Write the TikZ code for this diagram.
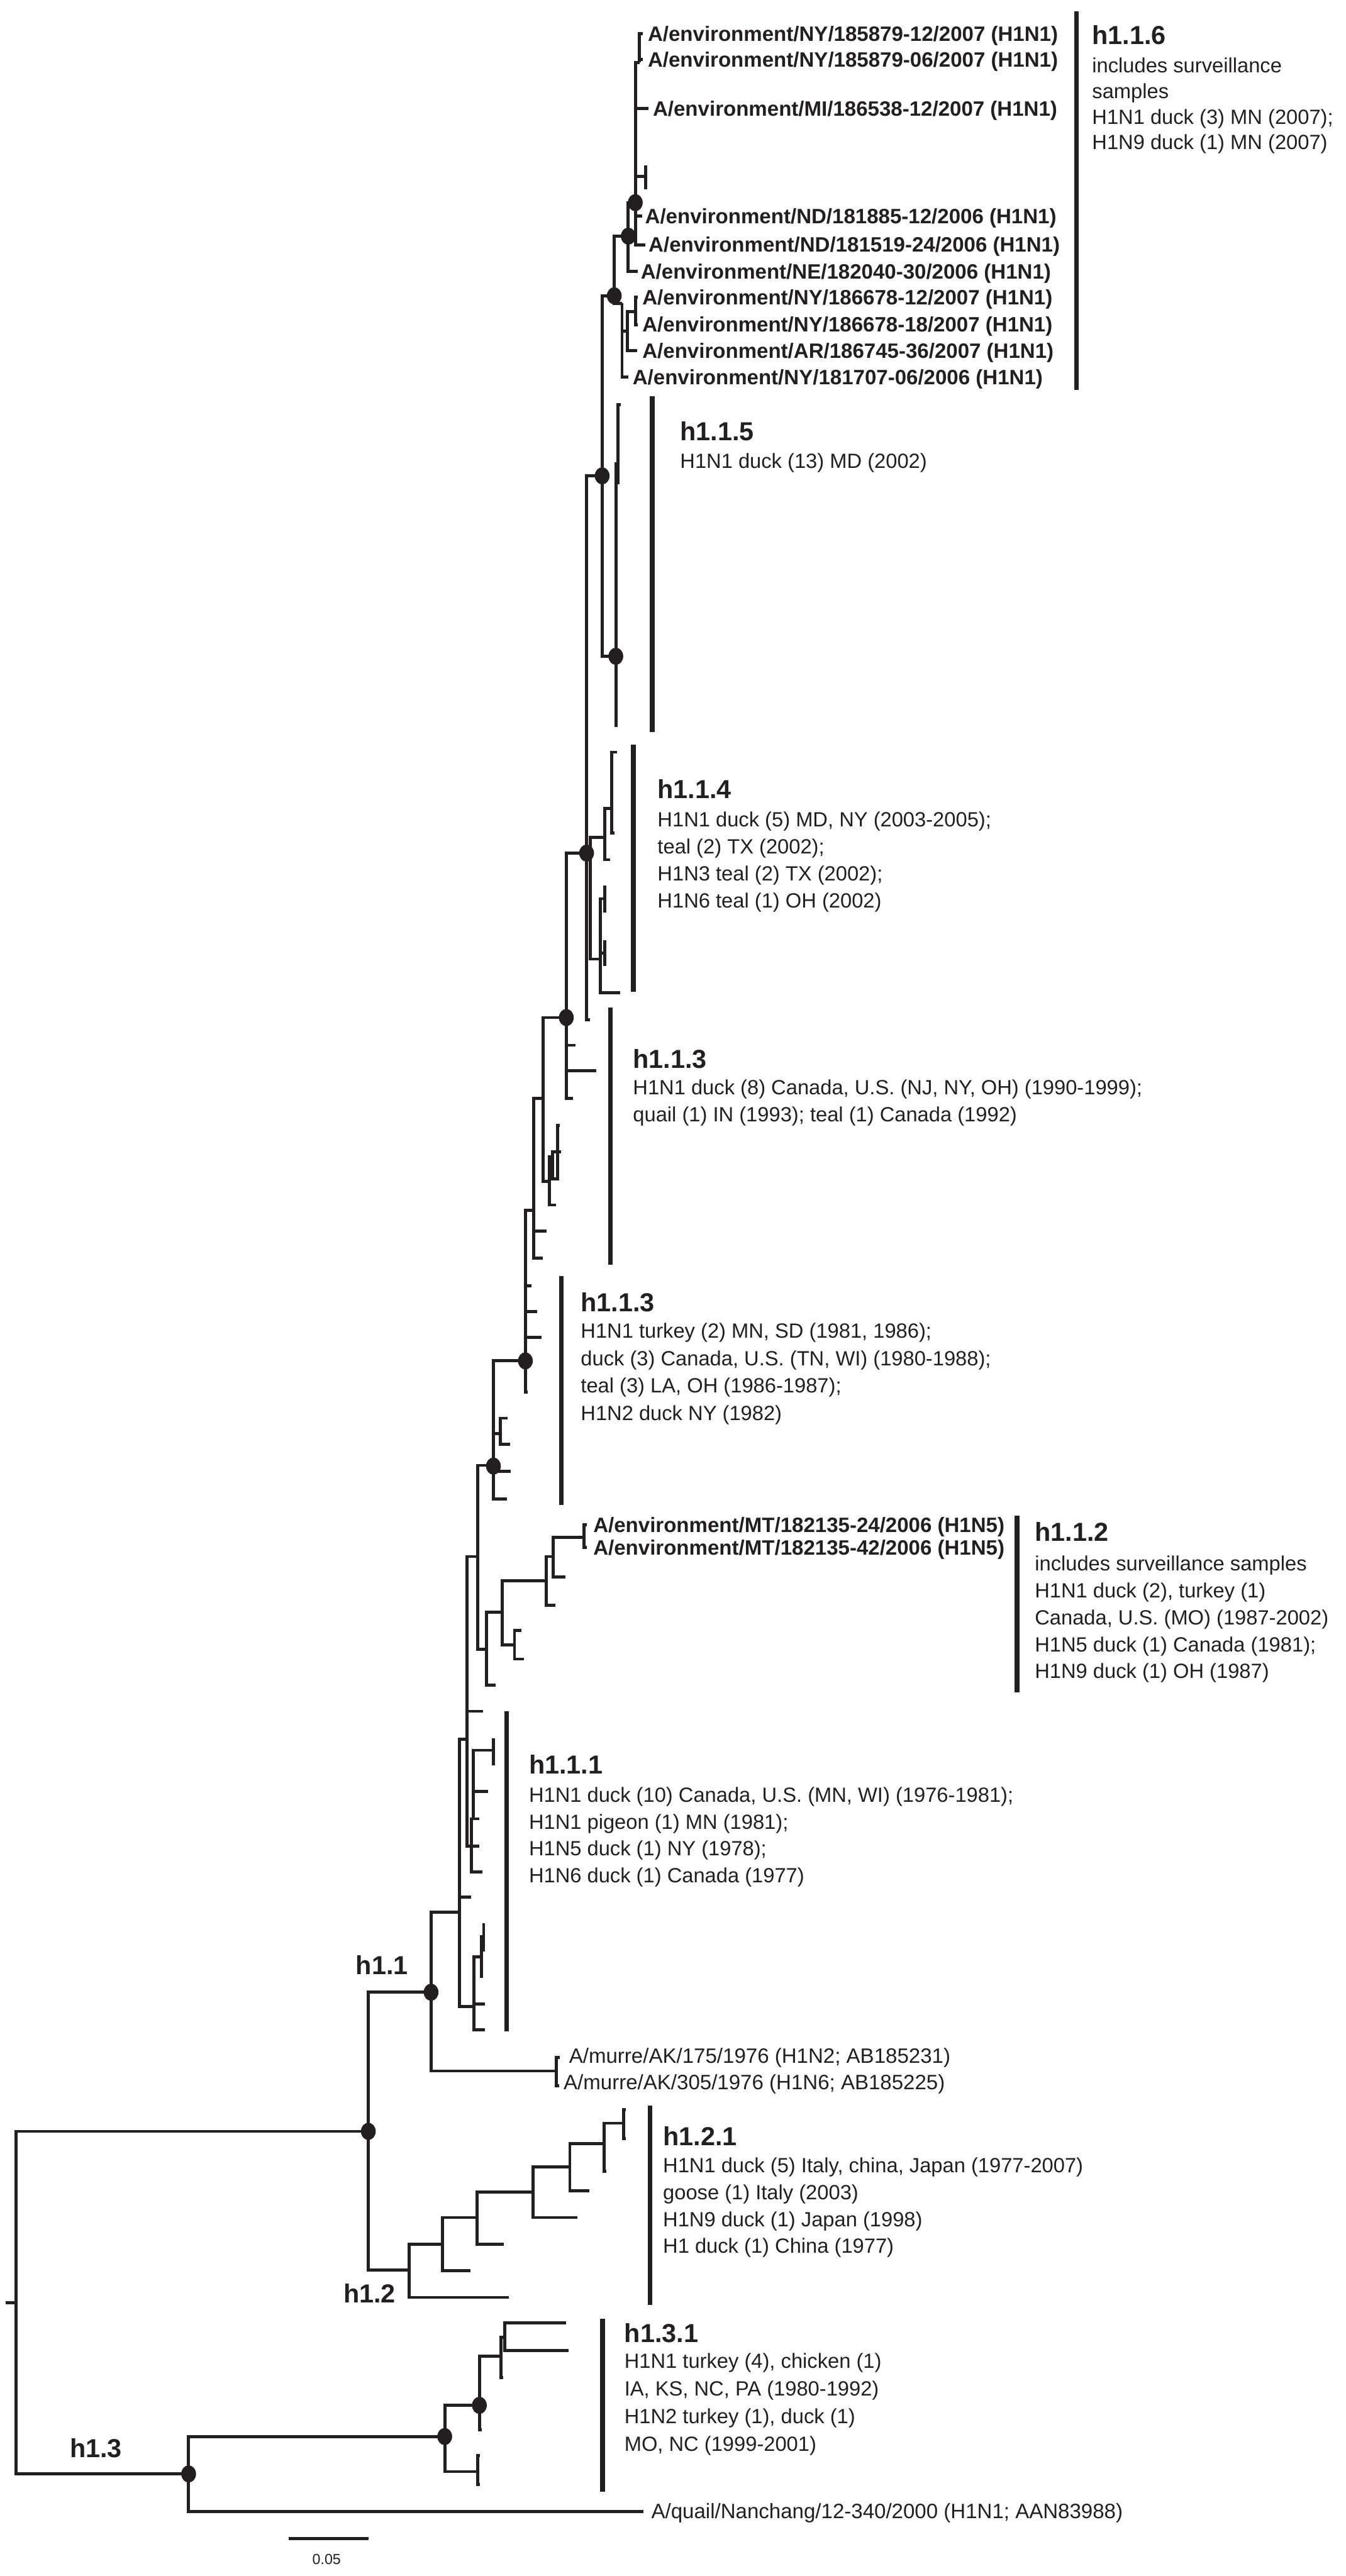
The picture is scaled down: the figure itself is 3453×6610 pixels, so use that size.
\documentclass[tikz,border=0pt]{standalone}
\usepackage{fontspec}
\setmainfont{Liberation Sans}
\usepackage{tikz}
\usetikzlibrary{positioning}
\definecolor{inkblack}{RGB}{35,31,32}
\tikzset{
    branch/.style={
        draw=inkblack,
        line width=1.35pt,
        line join=miter
    },
    cladebar/.style={
        draw=inkblack,
        line width=2.1pt
    },
    taxon/.style={
        anchor=west,
        inner sep=0pt,
        text height=6.5pt,
        text depth=0pt,
        text=inkblack,
        font=\fontsize{9.1}{11}\selectfont\bfseries
    },
    isolate/.style={taxon, font=\fontsize{9.1}{11}\selectfont},
    cladename/.style={taxon, text height=8.2pt, font=\fontsize{11.4}{13}\selectfont\bfseries},
    cladeinfo/.style={taxon, font=\fontsize{9}{11}\selectfont},
    scalelab/.style={inner sep=0pt, text=inkblack, font=\fontsize{6.4}{8}\selectfont}
}

\begin{document}
\begin{tikzpicture}[x=0.006cm, y=-0.006cm]
\useasboundingbox (0,0) rectangle (3453,6610);

% root and deep splits
\draw[branch] (15,5909) -- (41,5909);
\draw[branch] (945,5469) -| (41,6348) -- (484,6348);
\draw[branch] (1106,5112) -| (945,5825) -- (1050,5825);

% h1.3
\draw[branch] (1141,6252) -| (484,6444) -- (1651,6444);
\draw[branch] (1230,6172) -| (1141,6342) -- (1226,6342);
\draw[branch] (1232,6301) -| (1226,6375) -- (1232,6375);
\draw[branch] (1285,6046) -| (1230,6235) -- (1236,6235);
\draw[branch] (1295,5997) -| (1285,6101) -- (1291,6101);
\draw[branch] (1453,5961) -| (1295,6032) -- (1459,6032);

% h1.2
\draw[branch] (1136,5759) -| (1050,5895) -- (1305,5895);
\draw[branch] (1224,5690) -| (1136,5827) -- (1207,5827);
\draw[branch] (1368,5624) -| (1224,5759) -- (1293,5759);
\draw[branch] (1462,5560) -| (1368,5690) -- (1481,5690);
\draw[branch] (1550,5500) -| (1462,5622) -- (1512,5622);
\draw[branch] (1600,5448) -| (1550,5571) -- (1556,5571);
\draw[branch] (1606,5414) -| (1600,5487) -- (1606,5487);

% h1.1 and murre
\draw[branch] (1179,4906) -| (1106,5314) -- (1427,5314);
\draw[branch] (1436,5279) -| (1427,5352) -- (1434,5352);

% h1.1.1
\draw[branch] (1198,4463) -| (1179,5149) -- (1216,5149);
\draw[branch] (1179,4868) -- (1208,4868);
\draw[branch] (1233,5021) -| (1216,5209) -- (1244,5209);
\draw[branch] (1216,5142) -- (1244,5142);
\draw[branch] (1241,4935) -- (1241,5008);
\draw[branch] (1241,4970) -| (1235,5075);
\draw[branch] (1225,3994) -| (1198,4737) -- (1230,4737);
\draw[branch] (1198,4391) -- (1239,4391);
\draw[branch] (1230,4667) -| (1210,4804) -- (1237,4804);
\draw[branch] (1263,4491) -| (1215,4667);
\draw[branch] (1215,4597) -- (1253,4597);
\draw[branch] (1266,4460) -- (1266,4530);

% h1.1.2
\draw[branch] (1266,3760) -| (1225,4232) -- (1248,4232);
\draw[branch] (1289,4137) -| (1248,4324) -- (1272,4324);
\draw[branch] (1402,4056) -| (1289,4221) -- (1320,4221);
\draw[branch] (1337,4183) -| (1320,4257) -- (1345,4257);
\draw[branch] (1419,3994) -| (1402,4119) -- (1425,4119);
\draw[branch] (1498,3945) -| (1419,4047) -- (1451,4047);
\draw[branch] (1506,3913) -| (1498,3971) -- (1506,3971);

% h1.1.3 (lower)
\draw[branch] (1348,3492) -| (1266,3846) -- (1301,3846);
\draw[branch] (1266,3775) -- (1310,3775);
\draw[branch] (1266,3678) -- (1284,3678);
\draw[branch] (1302,3639) -| (1284,3706) -- (1309,3706);
\draw[branch] (1369,3106) -| (1348,3572) -- (1354,3572);
\draw[branch] (1348,3299) -- (1364,3299);
\draw[branch] (1348,3366) -- (1378,3366);
\draw[branch] (1348,3432) -- (1389,3432);

% h1.1.3 (upper)
\draw[branch] (1393,2818) -| (1369,3229) -- (1393,3229);
\draw[branch] (1369,3159) -- (1403,3159);
\draw[branch] (1453,2611) -| (1393,3032) -- (1409,3032);
\draw[branch] (1418,2969) -| (1409,3092) -- (1426,3092);
\draw[branch] (1440,2955) -| (1418,3025) -- (1428,3025);
\draw[branch] (1436,2888) -| (1431,3029);
\draw[branch] (1505,2189) -| (1453,2818) -- (1470,2818);
\draw[branch] (1453,2682) -- (1476,2682);
\draw[branch] (1453,2748) -- (1530,2748);

% h1.1.4
\draw[branch] (1545,1221) -| (1505,2616) -- (1514,2616);
\draw[branch] (1505,2189) -- (1514,2189);
\draw[branch] (1552,2148) -| (1514,2461) -- (1541,2461);
\draw[branch] (1568,2074) -| (1552,2206) -- (1565,2206);
\draw[branch] (1583,1930) -| (1570,2137) -- (1576,2137);
\draw[branch] (1552,2306) -| (1541,2547) -- (1591,2547);
\draw[branch] (1552,2272) -- (1552,2342);
\draw[branch] (1541,2445) -- (1552,2445);
\draw[branch] (1552,2412) -- (1552,2478);

% h1.1.5
\draw[branch] (1576,759) -| (1545,1684) -- (1580,1684);
\draw[branch] (1580,1186) -- (1580,1866);
\draw[branch] (1592,1039) -| (1585,1243);

% h1.1.6
\draw[branch] (1612,606) -| (1576,778) -- (1596,778);
\draw[branch] (1596,778) |- (1612,967);
\draw[branch] (1596,850) -- (1609,850);
\draw[branch] (1630,800) -| (1609,900) -- (1634,900);
\draw[branch] (1636,762) -| (1630,833) -- (1636,833);
\draw[branch] (1630,520) -| (1612,697) -- (1636,697);
\draw[branch] (1641,160) -| (1630,628) -- (1655,628);
\draw[branch] (1630,555) -- (1648,555);
\draw[branch] (1650,86) -| (1641,160);
\draw[branch] (1641,153) -- (1650,153);
\draw[branch] (1630,278) -- (1664,278);
\draw[branch] (1630,453) -- (1656,453);
\draw[branch] (1656,424) -- (1656,485);

% supported nodes
\foreach \p in {(1630,520),(1612,606),(1576,759),(1545,1221),(1580,1684),
                (1505,2189),(1453,2611),(1348,3492),(1266,3762),(1106,5112),
                (945,5469),(1230,6172),(1141,6252),(484,6348)}
    \fill[inkblack] \p ellipse [x radius=19, y radius=22];

% clade bars
\draw[cladebar] (2762,29) -- (2762,1000);
\draw[cladebar] (1673,1017) -- (1673,1878);
\draw[cladebar] (1625,1910) -- (1625,2545);
\draw[cladebar] (1566,2585) -- (1566,3246);
\draw[cladebar] (1440,3274) -- (1440,3862);
\draw[cladebar] (2609,3889) -- (2609,4342);
\draw[cladebar] (1300,4391) -- (1300,5212);
\draw[cladebar] (1668,5403) -- (1668,5914);
\draw[cladebar] (1546,5950) -- (1546,6394);

% environment isolates
\node[taxon] (e1) at (1661,86) {A/environment/NY/185879-12/2007 (H1N1)};
\node[taxon] (e2) at (1661,153) {A/environment/NY/185879-06/2007 (H1N1)};
\node[taxon] (e3) at (1674,278) {A/environment/MI/186538-12/2007 (H1N1)};
\node[taxon] (e4) at (1654,555) {A/environment/ND/181885-12/2006 (H1N1)};
\node[taxon] (e5) at (1663,628) {A/environment/ND/181519-24/2006 (H1N1)};
\node[taxon] (e6) at (1643,697) {A/environment/NE/182040-30/2006 (H1N1)};
\node[taxon] (e7) at (1647,762) {A/environment/NY/186678-12/2007 (H1N1)};
\node[taxon] (e8) at (1647,833) {A/environment/NY/186678-18/2007 (H1N1)};
\node[taxon] (e9) at (1647,900) {A/environment/AR/186745-36/2007 (H1N1)};
\node[taxon] (e10) at (1622,967) {A/environment/NY/181707-06/2006 (H1N1)};
\node[taxon] (mt1) at (1521,3913) {A/environment/MT/182135-24/2006 (H1N5)};
\node[taxon] (mt2) at (1521,3971) {A/environment/MT/182135-42/2006 (H1N5)};

% reference isolates
\node[isolate] (murre1) at (1459,5275) {A/murre/AK/175/1976 (H1N2; AB185231)};
\node[isolate] (murre2) at (1445,5342) {A/murre/AK/305/1976 (H1N6; AB185225)};
\node[isolate] (quail) at (1670,6444) {A/quail/Nanchang/12-340/2000 (H1N1; AAN83988)};

% lineage names
\node[cladename] (h11) at (912,5042) {h1.1};
\node[cladename] (h12) at (880,5885) {h1.2};
\node[cladename] (h13) at (178,6282) {h1.3};

% clade h1.1.6
\node[cladename] (c116) at (2801,90) {h1.1.6};
\foreach \txt [count=\i from 0] in {{includes surveillance},{samples},
        {H1N1 duck (3) MN (2007);},{H1N9 duck (1) MN (2007)}}
    \node[cladeinfo] (d116-\i) at (2801,167+66*\i) {\txt};

% clade h1.1.5
\node[cladename] (c115) at (1744,1106) {h1.1.5};
\node[cladeinfo] (d115-0) at (1744,1183) {H1N1 duck (13) MD (2002)};

% clade h1.1.4
\node[cladename] (c114) at (1686,2025) {h1.1.4};
\foreach \txt [count=\i from 0] in {{H1N1 duck (5) MD, NY (2003-2005);},{teal (2) TX (2002);},
        {H1N3 teal (2) TX (2002);},{H1N6 teal (1) OH (2002)}}
    \node[cladeinfo] (d114-\i) at (1686,2103+69*\i) {\txt};

% clade h1.1.3 (upper)
\node[cladename] (c113a) at (1623,2717) {h1.1.3};
\foreach \txt [count=\i from 0] in {{H1N1 duck (8) Canada, U.S. (NJ, NY, OH) (1990-1999);},
        {quail (1) IN (1993); teal (1) Canada (1992)}}
    \node[cladeinfo] (d113a-\i) at (1623,2790+69*\i) {\txt};

% clade h1.1.3 (lower)
\node[cladename] (c113b) at (1489,3341) {h1.1.3};
\foreach \txt [count=\i from 0] in {{H1N1 turkey (2) MN, SD (1981, 1986);},
        {duck (3) Canada, U.S. (TN, WI) (1980-1988);},{teal (3) LA, OH (1986-1987);},
        {H1N2 duck NY (1982)}}
    \node[cladeinfo] (d113b-\i) at (1489,3415+70*\i) {\txt};

% clade h1.1.2
\node[cladename] (c112) at (2654,3931) {h1.1.2};
\foreach \txt [count=\i from 0] in {{includes surveillance samples},{H1N1 duck (2), turkey (1)},
        {Canada, U.S. (MO) (1987-2002)},{H1N5 duck (1) Canada (1981);},{H1N9 duck (1) OH (1987)}}
    \node[cladeinfo] (d112-\i) at (2654,4012+69*\i) {\txt};

% clade h1.1.1
\node[cladename] (c111) at (1356,4528) {h1.1.1};
\foreach \txt [count=\i from 0] in {{H1N1 duck (10) Canada, U.S. (MN, WI) (1976-1981);},
        {H1N1 pigeon (1) MN (1981);},{H1N5 duck (1) NY (1978);},{H1N6 duck (1) Canada (1977)}}
    \node[cladeinfo] (d111-\i) at (1356,4605+69*\i) {\txt};

% clade h1.2.1
\node[cladename] (c121) at (1700,5481) {h1.2.1};
\foreach \txt [count=\i from 0] in {{H1N1 duck (5) Italy, china, Japan (1977-2007)},
        {goose (1) Italy (2003)},{H1N9 duck (1) Japan (1998)},{H1 duck (1) China (1977)}}
    \node[cladeinfo] (d121-\i) at (1700,5556+69*\i) {\txt};

% clade h1.3.1
\node[cladename] (c131) at (1601,5986) {h1.3.1};
\foreach \txt [count=\i from 0] in {{H1N1 turkey (4), chicken (1)},{IA, KS, NC, PA (1980-1992)},
        {H1N2 turkey (1), duck (1)},{MO, NC (1999-2001)}}
    \node[cladeinfo] (d131-\i) at (1601,6057+71*\i) {\txt};

% scale
\draw[branch] (740,6514) -- (945,6514);
\node[scalelab] (scale) at (838,6567) {0.05};

\end{tikzpicture}
\end{document}
